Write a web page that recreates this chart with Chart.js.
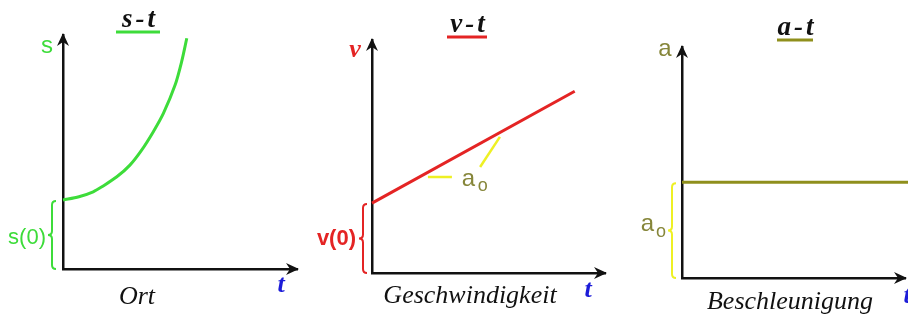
<!DOCTYPE html>
<html>
<head>
<meta charset="utf-8">
<script src="https://cdn.jsdelivr.net/npm/chart.js@4.4.0/dist/chart.umd.min.js"></script>
<style>
  html, body { margin: 0; padding: 0; background: #fff; }
  #wrap { position: relative; width: 908px; height: 322px; overflow: hidden; }
  canvas { position: absolute; top: 0; }
</style>
</head>
<body>
<div id="wrap">
  <canvas id="stChart" width="310" height="322" style="left:0"></canvas>
  <canvas id="vtChart" width="310" height="322" style="left:310px"></canvas>
  <canvas id="atChart" width="288" height="322" style="left:620px"></canvas>
</div>
<script>
// s-t: position over time
const sTimes = [0, 0.68, 1.29, 1.72, 2.30, 2.86, 3.36, 3.86, 4.29, 4.79, 5.07, 5.29];
const sValues = [2.95, 3.09, 3.30, 3.55, 3.94, 4.44, 5.08, 5.87, 6.65, 7.86, 8.86, 9.86];

// v-t: straight line starting at v(0)
const vTimes = [0, 8.7];
const vValues = [3.0, 7.8];

// a-t: constant acceleration a0
const aTimes = [0, 10.2];
const aValues = [4.15, 4.15];

const GREEN = '#3ddc3a';
const RED = '#e42424';
const OLIVE = '#8f8f1c';
const OLIVE_TEXT = '#86863a';
const YELLOW = '#eef024';
const BLUE = '#1c1cd8';
const SERIF = '"Liberation Serif", "DejaVu Serif", serif';
const SANS = '"Liberation Sans", Arial, sans-serif';

function arrowUp(ctx, x, y) {
    ctx.beginPath();
    ctx.moveTo(x, y - 2);
    ctx.lineTo(x - 6, y + 11);
    ctx.lineTo(x, y + 7);
    ctx.lineTo(x + 6, y + 11);
    ctx.closePath();
    ctx.fill();
}

function arrowRight(ctx, x, y) {
    ctx.beginPath();
    ctx.moveTo(x + 2, y);
    ctx.lineTo(x - 11, y - 6);
    ctx.lineTo(x - 7, y);
    ctx.lineTo(x - 11, y + 6);
    ctx.closePath();
    ctx.fill();
}

// curly brace opening to the right, tip pointing left
function brace(ctx, x, y0, y1, color) {
    const m = (y0 + y1) / 2, w = 4;
    ctx.save();
    ctx.strokeStyle = color;
    ctx.lineWidth = 2;
    ctx.beginPath();
    ctx.moveTo(x + w, y0);
    ctx.quadraticCurveTo(x, y0, x, y0 + w);
    ctx.lineTo(x, m - w);
    ctx.quadraticCurveTo(x, m, x - w, m);
    ctx.quadraticCurveTo(x, m, x, m + w);
    ctx.lineTo(x, y1 - w);
    ctx.quadraticCurveTo(x, y1, x + w, y1);
    ctx.stroke();
    ctx.restore();
}

function text(ctx, str, x, y, font, color, align, spacing) {
    ctx.font = font;
    ctx.fillStyle = color;
    ctx.textAlign = align || 'center';
    ctx.textBaseline = 'alphabetic';
    ctx.letterSpacing = spacing || '0px';
    ctx.fillText(str, x, y);
    ctx.letterSpacing = '0px';
}

// draws arrows, braces, titles and hand labels on top of each chart
const sketchPlugin = {
    id: 'sketch',
    afterDraw(chart, args, o) {
        const ctx = chart.ctx;
        const xs = chart.scales.x, ys = chart.scales.y;
        const area = chart.chartArea;
        ctx.save();
        ctx.fillStyle = '#111';
        arrowUp(ctx, area.left, area.top);
        arrowRight(ctx, area.right, area.bottom);

        // title with coloured underline
        text(ctx, o.title, o.titleX + 2, o.titleY, 'italic bold 27px ' + SERIF, '#111', 'center', '3px');
        ctx.strokeStyle = o.underline;
        ctx.lineWidth = 3;
        ctx.beginPath();
        ctx.moveTo(o.titleX - o.underlineHalf, o.titleY + 5);
        ctx.lineTo(o.titleX + o.underlineHalf, o.titleY + 5);
        ctx.stroke();

        // quantity name on the y axis
        text(ctx, o.yLabel, o.yLabelX, o.yLabelY, o.yFont, o.yColor);

        // initial value brace
        const y0 = ys.getPixelForValue(o.startValue);
        brace(ctx, area.left - o.braceGap, y0 + 1, area.bottom, o.braceColor);
        text(ctx, o.startLabel, o.startX, o.startY, o.startFont, o.yColor, 'right');
        if (o.startSub) {
            text(ctx, o.startSub, o.startX + 2, o.startY + 6, '18px ' + SANS, o.yColor, 'left');
        }

        // axis caption and time label
        text(ctx, o.caption, o.captionX, o.captionY, 'italic 26px ' + SERIF, '#111');
        text(ctx, 't', o.tX, o.tY, 'italic bold 26px ' + SERIF, BLUE);

        // slope marks for a0 on the v-t line
        if (o.slopeMarks) {
            ctx.strokeStyle = YELLOW;
            ctx.lineWidth = 2.5;
            o.slopeMarks.forEach(seg => {
                ctx.beginPath();
                ctx.moveTo(xs.getPixelForValue(seg[0]), ys.getPixelForValue(seg[1]));
                ctx.lineTo(xs.getPixelForValue(seg[2]), ys.getPixelForValue(seg[3]));
                ctx.stroke();
            });
            const lx = xs.getPixelForValue(o.slopeLabelAt[0]);
            const ly = ys.getPixelForValue(o.slopeLabelAt[1]);
            text(ctx, 'a', lx, ly, '24px ' + SANS, OLIVE_TEXT, 'left');
            text(ctx, 'o', lx + 16, ly + 5, '18px ' + SANS, OLIVE_TEXT, 'left');
        }
        ctx.restore();
    }
};

function axis() {
    return {
        type: 'linear',
        min: 0,
        max: 10,
        ticks: { display: false },
        grid: { display: false, drawTicks: false },
        border: { display: true, color: '#111', width: 2.5 }
    };
}

function makeChart(id, times, values, color, padding, sketch, smooth) {
    return new Chart(document.getElementById(id), {
        type: 'line',
        data: {
            datasets: [{
                data: times.map((t, i) => ({ x: t, y: values[i] })),
                borderColor: color,
                borderWidth: 3,
                pointRadius: 0,
                fill: false,
                tension: smooth ? 0.3 : 0,
                clip: false
            }]
        },
        options: {
            responsive: false,
            animation: false,
            layout: { padding: padding },
            scales: { x: axis(), y: axis() },
            plugins: {
                legend: { display: false },
                tooltip: { enabled: false },
                sketch: sketch
            }
        },
        plugins: [sketchPlugin]
    });
}

makeChart('stChart', sTimes, sValues, GREEN,
    { left: 63, right: 13, top: 35, bottom: 53 },
    {
        title: 's-t', titleX: 138, titleY: 27, underline: GREEN, underlineHalf: 22,
        yLabel: 's', yLabelX: 47, yLabelY: 53, yFont: '24px ' + SANS, yColor: GREEN,
        startValue: sValues[0], braceGap: 11, braceColor: GREEN,
        startLabel: 's(0)', startX: 46, startY: 244, startFont: '22px ' + SANS,
        caption: 'Ort', captionX: 137, captionY: 304, tX: 281, tY: 292
    }, true);

makeChart('vtChart', vTimes, vValues, RED,
    { left: 62, right: 15, top: 40, bottom: 49 },
    {
        title: 'v-t', titleX: 157, titleY: 32, underline: RED, underlineHalf: 20,
        yLabel: 'v', yLabelX: 45, yLabelY: 57, yFont: 'italic bold 26px ' + SERIF, yColor: RED,
        startValue: vValues[0], braceGap: 9, braceColor: RED,
        startLabel: 'v(0)', startX: 46, startY: 245, startFont: 'bold 22px ' + SANS,
        caption: 'Geschwindigkeit', captionX: 160, captionY: 303, tX: 278, tY: 297,
        slopeMarks: [[2.4, 4.12, 3.43, 4.12], [4.64, 4.55, 5.49, 5.84]],
        slopeLabelAt: [3.85, 3.75]
    }, false);

makeChart('atChart', aTimes, aValues, OLIVE,
    { left: 62, right: 3, top: 47, bottom: 44 },
    {
        title: 'a-t', titleX: 175, titleY: 35, underline: OLIVE, underlineHalf: 18,
        yLabel: 'a', yLabelX: 45, yLabelY: 56, yFont: '24px ' + SANS, yColor: OLIVE_TEXT,
        startValue: aValues[0], braceGap: 10, braceColor: YELLOW,
        startLabel: 'a', startSub: 'o', startX: 34, startY: 231, startFont: '24px ' + SANS,
        caption: 'Beschleunigung', captionX: 170, captionY: 309, tX: 287, tY: 303
    }, false);
</script>
</body>
</html>
